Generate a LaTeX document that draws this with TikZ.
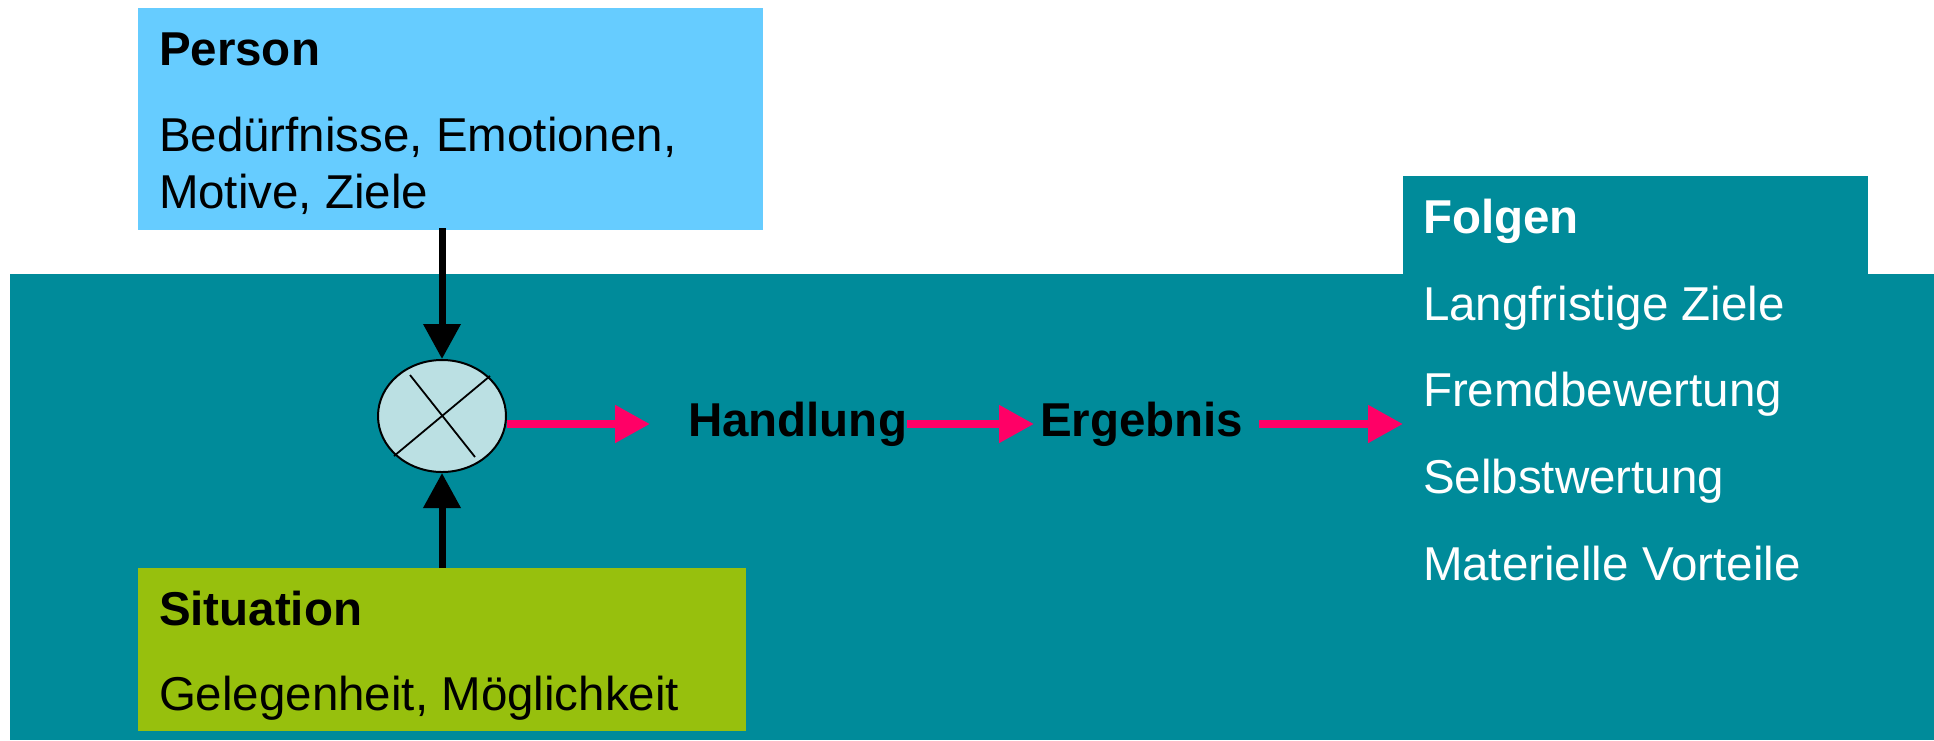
\documentclass[tikz,border=0pt]{standalone}
\usepackage{fontspec}
\setmainfont{Liberation Sans}
\usetikzlibrary{arrows.meta,shapes.geometric,calc}
\definecolor{teal}{RGB}{0,139,154}
\definecolor{pblue}{RGB}{102,204,255}
\definecolor{sgreen}{RGB}{151,192,13}
\definecolor{ellfill}{RGB}{187,224,227}
\definecolor{pinkc}{RGB}{255,0,102}
\tikzset{
  box/.style={draw=none,inner sep=0,outer sep=0,anchor=north west},
  txt/.style={inner sep=0,outer sep=0,anchor=base west,font=\fontsize{47.5}{57}\selectfont},
  btxt/.style={txt,font=\fontsize{47.5}{57}\selectfont\bfseries},
  pa/.style={draw=pinkc,line width=8pt,-{Triangle[length=35pt,width=36pt]},fill=pinkc},
  ba/.style={draw=black,line width=7pt,-{Triangle[length=35pt,width=36pt]}},
  mid/.style={inner sep=0,outer sep=0,anchor=west,font=\fontsize{47.5}{57}\selectfont\bfseries}
}
\begin{document}
\begin{tikzpicture}[x=1pt,y=-1pt]
\useasboundingbox (0,0) rectangle (1934,740);
% background
\node[box,fill=teal,minimum width=1924pt,minimum height=466pt] (bg) at (10,274) {};
\node[box,fill=teal,minimum width=465pt,minimum height=99pt] (folgenbox) at (1403,176) {};
\node[box,fill=pblue,minimum width=625pt,minimum height=222pt] (person) at (138,8) {};
\node[box,fill=sgreen,minimum width=608pt,minimum height=163pt] (situation) at (138,568) {};
% texts
\node[btxt] (tperson) at (159,65) {Person};
\node[txt] (tp1) at (159,151) {Bedürfnisse, Emotionen,};
\node[txt] (tp2) at (159,208) {Motive, Ziele};
\node[btxt] (tsit) at (159,625) {Situation};
\node[txt] (ts1) at (159,710) {Gelegenheit, Möglichkeit};
\node[btxt,text=white] (tfolgen) at (1423,233) {Folgen};
\node[txt,text=white] (f1) at (1423,320) {Langfristige Ziele};
\node[txt,text=white] (f2) at (1423,406) {Fremdbewertung};
\node[txt,text=white] (f3) at (1423,493) {Selbstwertung};
\node[txt,text=white] (f4) at (1423,580) {Materielle Vorteile};
% ellipse
\node[ellipse,draw=black,line width=2pt,fill=ellfill,minimum width=128pt,minimum height=112pt,inner sep=0] (ell) at (442,416) {};
\draw[line width=1.8pt] ($(ell.center)+(-32,-41)$) -- ($(ell.center)+(33,41)$);
\draw[line width=1.8pt] ($(ell.center)+(48,-40)$) -- ($(ell.center)+(-48,40)$);
% middle labels
\node[mid] (hand) at (688,424) {Handlung};
\node[mid] (erg) at (1040,424) {Ergebnis};
% arrows
\draw[ba] ([yshift=2pt]person.south -| ell.north) -- (ell.north);
\draw[ba] (situation.north -| ell.south) -- (ell.south);
\draw[pa] ($(ell.east)+(0,8)$) -- ([xshift=-38pt]hand.west);
\draw[pa] (hand.east) -- ([xshift=-6pt]erg.west);
\draw[pa] ([xshift=16pt]erg.east) -- (erg.east -| folgenbox.west);
\end{tikzpicture}
\end{document}
